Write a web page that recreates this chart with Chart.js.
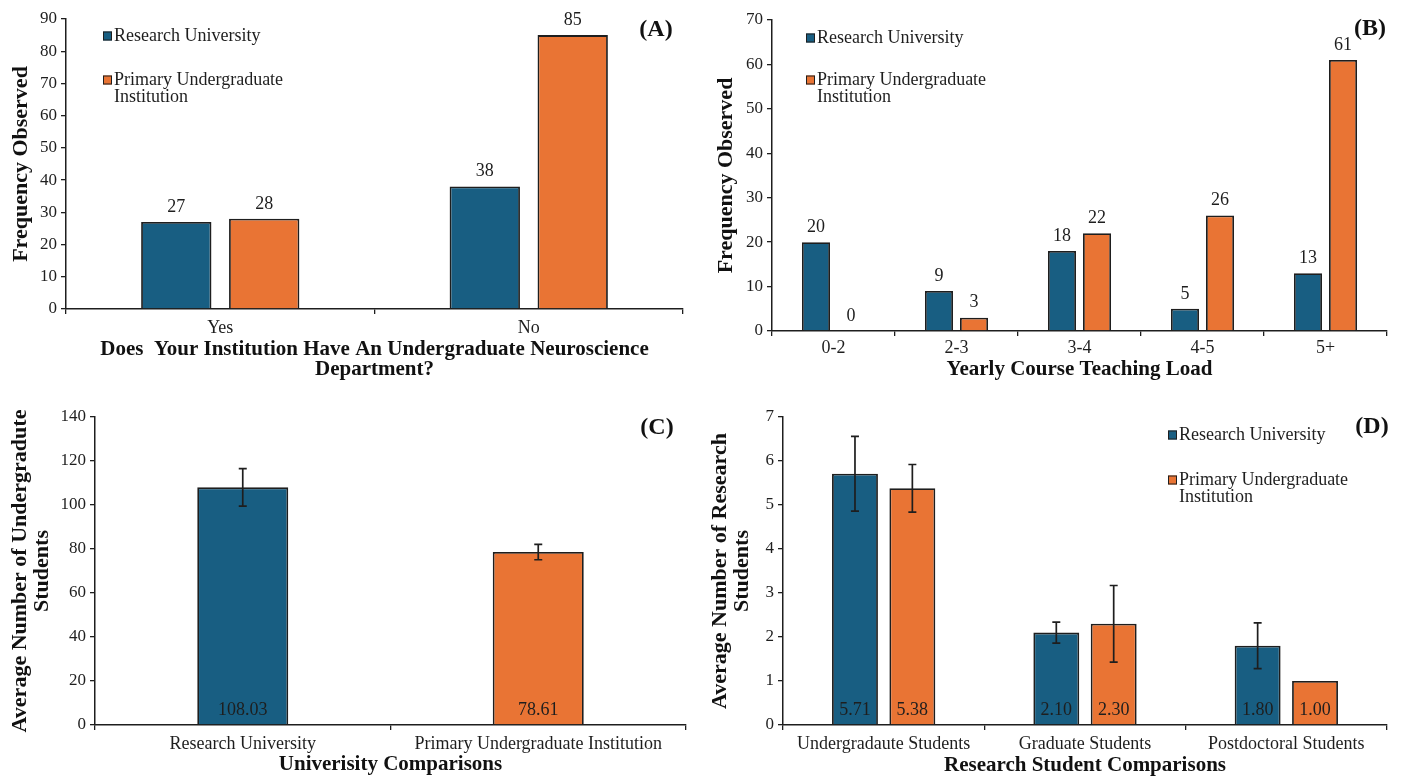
<!DOCTYPE html>
<html>
<head>
<meta charset="utf-8">
<script src="https://cdn.jsdelivr.net/npm/chart.js@4.4.1/dist/chart.umd.min.js"></script>
<style>
body { margin: 0; background: #fff; width: 1403px; height: 777px; overflow: hidden; position: relative; }
.panel { position: absolute; }
</style>
</head>
<body>
<div class="panel" style="left:0;top:0"><canvas id="chartA" width="700" height="390"></canvas></div>
<div class="panel" style="left:700px;top:0"><canvas id="chartB" width="703" height="390"></canvas></div>
<div class="panel" style="left:0;top:390px"><canvas id="chartC" width="700" height="387"></canvas></div>
<div class="panel" style="left:700px;top:390px"><canvas id="chartD" width="703" height="387"></canvas></div>
<script>
// series names + colours
const seriesNames = ['Research University', 'Primary Undergraduate Institution'];
const ruColor = '#185e82';
const puiColor = '#e97434';

// (A) undergraduate neuroscience department
const deptLabels = ['Yes', 'No'];
const deptRU = [27, 38];
const deptPUI = [28, 85];

// (B) yearly course teaching load
const loadLabels = ['0-2', '2-3', '3-4', '4-5', '5+'];
const loadRU = [20, 9, 18, 5, 13];
const loadPUI = [0, 3, 22, 26, 61];

// (C) average number of undergraduate students
const uniLabels = ['Research University', 'Primary Undergraduate Institution'];
const uniMeans = [108.03, 78.61];
const uniErr = [8.5, 3.5];

// (D) average number of research students
const studentLabels = ['Undergradaute Students', 'Graduate Students', 'Postdoctoral Students'];
const studentRU = [5.71, 2.10, 1.80];
const studentRUErr = [0.85, 0.24, 0.52];
const studentPUI = [5.38, 2.30, 1.00];
const studentPUIErr = [0.54, 0.87, 0];

const serif = '"Liberation Serif", "Times New Roman", serif';
const ink = '#1e1e1e';

// value labels, either above the bar or sitting at the base
const valueLabels = {
    id: 'valueLabels',
    afterDatasetsDraw(chart, args, opts) {
        if (!opts.mode) return;
        const ctx = chart.ctx;
        const yScale = chart.scales.y;
        ctx.save();
        ctx.font = '18px ' + serif;
        ctx.fillStyle = ink;
        ctx.textAlign = 'center';
        ctx.textBaseline = 'middle';
        chart.data.datasets.forEach((ds, i) => {
            chart.getDatasetMeta(i).data.forEach((bar, j) => {
                let v = ds.data[j];
                let txt = opts.decimals ? v.toFixed(opts.decimals) : String(v);
                let y = opts.mode === 'top' ? bar.y - 15 : yScale.getPixelForValue(0) - 15;
                ctx.fillText(txt, bar.x, y);
            });
        });
        ctx.restore();
    }
};

// error bars, read from ds.errors
const errorBars = {
    id: 'errorBars',
    afterDatasetsDraw(chart) {
        const ctx = chart.ctx;
        const yScale = chart.scales.y;
        ctx.save();
        ctx.strokeStyle = ink;
        ctx.lineWidth = 1.7;
        chart.data.datasets.forEach((ds, i) => {
            if (!ds.errors) return;
            chart.getDatasetMeta(i).data.forEach((bar, j) => {
                let e = ds.errors[j];
                if (!e) return;
                let top = yScale.getPixelForValue(ds.data[j] + e);
                let bot = yScale.getPixelForValue(ds.data[j] - e);
                ctx.beginPath();
                ctx.moveTo(bar.x, top); ctx.lineTo(bar.x, bot);
                ctx.moveTo(bar.x - 4, top); ctx.lineTo(bar.x + 4, top);
                ctx.moveTo(bar.x - 4, bot); ctx.lineTo(bar.x + 4, bot);
                ctx.stroke();
            });
        });
        ctx.restore();
    }
};

// small square legend with wrapped text
const boxLegend = {
    id: 'boxLegend',
    afterDraw(chart, args, opts) {
        if (opts.x === undefined) return;
        const ctx = chart.ctx;
        ctx.save();
        ctx.font = '18px ' + serif;
        ctx.textBaseline = 'middle';
        chart.data.datasets.forEach((ds, i) => {
            let y = opts.ys[i];
            ctx.fillStyle = ds.backgroundColor;
            ctx.fillRect(opts.x, y - 4.5, 9, 9);
            ctx.strokeStyle = ink;
            ctx.lineWidth = 1;
            ctx.strokeRect(opts.x + 0.5, y - 4, 8, 8);
            // wrap words
            let words = ds.label.split(' ');
            let lines = [];
            let cur = '';
            words.forEach(w => {
                let test = cur ? cur + ' ' + w : w;
                if (ctx.measureText(test).width > 180 && cur) {
                    lines.push(cur);
                    cur = w;
                } else {
                    cur = test;
                }
            });
            lines.push(cur);
            ctx.fillStyle = ink;
            lines.forEach((ln, k) => ctx.fillText(ln, opts.x + 11, y + k * 17));
        });
        ctx.restore();
    }
};

// (A), (B) ... tags
const panelTag = {
    id: 'panelTag',
    afterDraw(chart, args, opts) {
        const ctx = chart.ctx;
        ctx.save();
        ctx.font = 'bold 24px ' + serif;
        ctx.fillStyle = '#111';
        ctx.textAlign = 'center';
        ctx.textBaseline = 'middle';
        ctx.fillText(opts.text, opts.x, opts.y);
        ctx.restore();
    }
};

function makeOptions(o) {
    return {
        responsive: false,
        animation: false,
        events: [],
        layout: { padding: { left: 0, top: o.top, right: o.right, bottom: 0 } },
        plugins: {
            legend: { display: false },
            tooltip: { enabled: false },
            panelTag: o.tag,
            boxLegend: o.legend || {},
            valueLabels: o.values
        },
        scales: {
            x: {
                afterFit: s => { s.height = o.xHeight; },
                grid: { display: true, drawOnChartArea: false, drawTicks: true, tickLength: 5, color: ink, lineWidth: 1.3 },
                border: { display: true, color: ink, width: 1.5 },
                ticks: { color: ink, font: { family: serif, size: 18 }, padding: o.xPad, maxRotation: 0, autoSkip: false },
                title: {
                    display: true, text: o.xTitle, color: '#111',
                    font: { family: serif, size: 21, weight: 'bold', lineHeight: 0.96 },
                    padding: { top: 0, bottom: o.xTitlePad }
                }
            },
            y: {
                min: 0, max: o.yMax,
                afterFit: s => { s.width = o.yWidth; },
                grid: { display: true, drawOnChartArea: false, drawTicks: true, tickLength: 5, color: ink, lineWidth: 1.3 },
                border: { display: true, color: ink, width: 1.5 },
                ticks: { stepSize: o.yStep, color: ink, font: { family: serif, size: 17 }, padding: 4 },
                title: {
                    display: true, text: o.yTitle, color: '#111',
                    font: { family: serif, size: 22, weight: 'bold', lineHeight: 1.0 },
                    padding: { top: o.yTitlePad, bottom: 0 }
                }
            }
        }
    };
}

const barStyle = { borderColor: ink, borderWidth: 1.8, categoryPercentage: 0.57, barPercentage: 0.8 };
const plugins = [valueLabels, errorBars, boxLegend, panelTag];

new Chart(document.getElementById('chartA'), {
    type: 'bar',
    data: {
        labels: deptLabels,
        datasets: [
            Object.assign({ label: seriesNames[0], data: deptRU, backgroundColor: ruColor }, barStyle),
            Object.assign({ label: seriesNames[1], data: deptPUI, backgroundColor: puiColor }, barStyle)
        ]
    },
    options: makeOptions({
        top: 19, right: 17, xHeight: 81, yWidth: 66, yMax: 90, yStep: 10, xPad: 3,
        xTitle: ['Does  Your Institution Have An Undergraduate Neuroscience', 'Department?'], xTitlePad: 10,
        yTitle: 'Frequency Observed', yTitlePad: 10,
        tag: { text: '(A)', x: 656, y: 30 },
        legend: { x: 103, ys: [36, 80] },
        values: { mode: 'top' }
    }),
    plugins: plugins
});

new Chart(document.getElementById('chartB'), {
    type: 'bar',
    data: {
        labels: loadLabels,
        datasets: [
            Object.assign({ label: seriesNames[0], data: loadRU, backgroundColor: ruColor }, barStyle),
            Object.assign({ label: seriesNames[1], data: loadPUI, backgroundColor: puiColor }, barStyle)
        ]
    },
    options: makeOptions({
        top: 20, right: 16, xHeight: 59, yWidth: 72, yMax: 70, yStep: 10, xPad: 1,
        xTitle: 'Yearly Course Teaching Load', xTitlePad: 10,
        yTitle: 'Frequency Observed', yTitlePad: 15,
        tag: { text: '(B)', x: 670, y: 29 },
        legend: { x: 106, ys: [38, 80] },
        values: { mode: 'top' }
    }),
    plugins: plugins
});

new Chart(document.getElementById('chartC'), {
    type: 'bar',
    data: {
        labels: uniLabels,
        datasets: [{
            label: 'Average', data: uniMeans, errors: uniErr,
            backgroundColor: [ruColor, puiColor], borderColor: ink, borderWidth: 1.8,
            categoryPercentage: 0.385, barPercentage: 0.8
        }]
    },
    options: makeOptions({
        top: 27, right: 14, xHeight: 52, yWidth: 95, yMax: 140, yStep: 20, xPad: 3,
        xTitle: 'Univerisity Comparisons', xTitlePad: 2,
        yTitle: ['Average Number of Undergradute', 'Students'], yTitlePad: 9,
        tag: { text: '(C)', x: 657, y: 38 },
        values: { mode: 'base', decimals: 2 }
    }),
    plugins: plugins
});

new Chart(document.getElementById('chartD'), {
    type: 'bar',
    data: {
        labels: studentLabels,
        datasets: [
            Object.assign({ label: seriesNames[0], data: studentRU, errors: studentRUErr, backgroundColor: ruColor }, barStyle),
            Object.assign({ label: seriesNames[1], data: studentPUI, errors: studentPUIErr, backgroundColor: puiColor }, barStyle)
        ]
    },
    options: makeOptions({
        top: 27, right: 16, xHeight: 52, yWidth: 83, yMax: 7, yStep: 1, xPad: 3,
        xTitle: 'Research Student Comparisons', xTitlePad: 1,
        yTitle: ['Average Number of Research', 'Students'], yTitlePad: 9,
        tag: { text: '(D)', x: 672, y: 37 },
        legend: { x: 468, ys: [45, 90] },
        values: { mode: 'base', decimals: 2 }
    }),
    plugins: plugins
});
</script>
</body>
</html>
